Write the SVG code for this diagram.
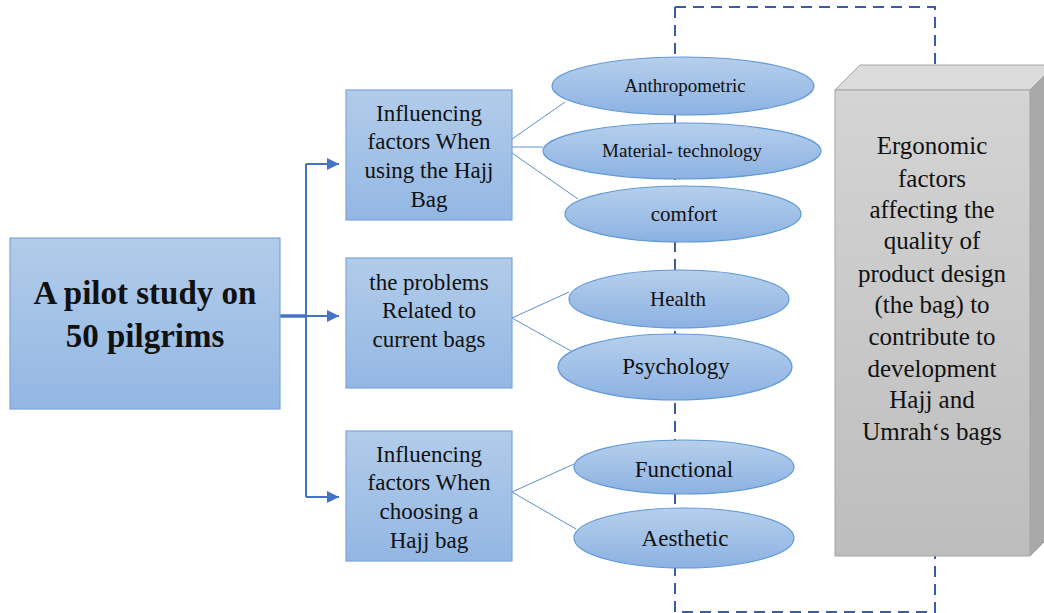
<svg xmlns="http://www.w3.org/2000/svg" width="1044" height="613" viewBox="0 0 1044 613">
<defs>
<linearGradient id="gBox" x1="0" y1="0" x2="0" y2="1"><stop offset="0" stop-color="#B2CCEA"/><stop offset="1" stop-color="#93B7E3"/></linearGradient>
<linearGradient id="gEll" x1="0" y1="0" x2="0" y2="1"><stop offset="0" stop-color="#B6CFEC"/><stop offset="1" stop-color="#8CB2E2"/></linearGradient>
<linearGradient id="gGray" x1="0" y1="0" x2="0" y2="1"><stop offset="0" stop-color="#D4D4D4"/><stop offset="1" stop-color="#BDBDBD"/></linearGradient>
<marker id="arr" viewBox="0 0 10 10" refX="10" refY="5" markerWidth="6" markerHeight="6" orient="auto" markerUnits="strokeWidth"><path d="M0,0 L10,5 L0,10 z" fill="#4472C4"/></marker>
<style>
.box{fill:url(#gBox);stroke:#7AA6DC;stroke-width:1.2;}
.ell{fill:url(#gEll);stroke:#5E98D6;stroke-width:1.2;}
.t{font-family:"Liberation Serif","Times New Roman",serif;fill:#111;text-anchor:middle;}
.bt{font-size:23px;}
.link{stroke:#5E8ED2;stroke-width:1;fill:none;}
.arrow{stroke:#4472C4;stroke-width:2;fill:none;}
.dash{stroke:#3B5C9E;stroke-width:2;fill:none;stroke-dasharray:11 7;}
</style>
</defs>
<rect width="1044" height="613" fill="#fff"/>

<g id="connectors">
<path class="dash" d="M675,7 L675,612 L935,612 L935,556"/>
<path class="dash" d="M675,7 L935,7 L935,64"/>
<path d="M280,316 L306,316" stroke="#4472C4" stroke-width="3.5" fill="none"/>
<path class="arrow" d="M306,164 L306,497"/>
<path class="arrow" d="M306,164 L339,164" marker-end="url(#arr)"/>
<path class="arrow" d="M306,316 L339,316" marker-end="url(#arr)"/>
<path class="arrow" d="M306,497 L339,497" marker-end="url(#arr)"/>
<path class="link" d="M512,139 L565,102 M512,147 L543,147 M512,153 L578,199"/>
<path class="link" d="M512,318 L569,292 M512,318 L571,351"/>
<path class="link" d="M512,492 L574,464 M512,492 L576,529"/>
</g>

<g id="main">
<rect class="box" x="10" y="238" width="270" height="171"/>
<text class="t" x="145" y="304" font-size="33" font-weight="bold">A pilot study on</text>
<text class="t" x="145" y="347" font-size="33" font-weight="bold">50 pilgrims</text>
</g>

<g id="box1">
<rect class="box" x="346" y="90" width="166" height="130"/>
<text class="t bt" x="429" y="121">Influencing</text>
<text class="t bt" x="429" y="149">factors When</text>
<text class="t bt" x="429" y="178">using the Hajj</text>
<text class="t bt" x="429" y="207">Bag</text>
</g>

<g id="box2">
<rect class="box" x="346" y="258" width="166" height="130"/>
<text class="t bt" x="429" y="290">the problems</text>
<text class="t bt" x="429" y="318">Related to</text>
<text class="t bt" x="429" y="347">current bags</text>
</g>

<g id="box3">
<rect class="box" x="346" y="431" width="166" height="130"/>
<text class="t bt" x="429" y="462">Influencing</text>
<text class="t bt" x="429" y="490">factors When</text>
<text class="t bt" x="429" y="519">choosing a</text>
<text class="t bt" x="429" y="548">Hajj bag</text>
</g>

<g id="anthropometric">
<ellipse class="ell" cx="683" cy="86" rx="131" ry="29"/>
<text class="t" x="685" y="92" font-size="19">Anthropometric</text>
</g>
<g id="material">
<ellipse class="ell" cx="682" cy="151" rx="139" ry="28"/>
<text class="t" x="682" y="157" font-size="19">Material- technology</text>
</g>
<g id="comfort">
<ellipse class="ell" cx="683" cy="214" rx="118" ry="28"/>
<text class="t" x="684" y="221" font-size="21">comfort</text>
</g>
<g id="health">
<ellipse class="ell" cx="679" cy="299" rx="110" ry="29"/>
<text class="t" x="678" y="306" font-size="21">Health</text>
</g>
<g id="psychology">
<ellipse class="ell" cx="675" cy="367" rx="117" ry="33"/>
<text class="t" x="676" y="374" font-size="23">Psychology</text>
</g>
<g id="functional">
<ellipse class="ell" cx="684" cy="467" rx="110" ry="27"/>
<text class="t" x="684" y="477" font-size="23">Functional</text>
</g>
<g id="aesthetic">
<ellipse class="ell" cx="684" cy="538" rx="110" ry="30"/>
<text class="t" x="685" y="546" font-size="23">Aesthetic</text>
</g>

<g id="ergonomic">
<polygon points="835,90 860,65 1056,65 1030,90" fill="#DCDCDC" stroke="#A6A6A6" stroke-width="1"/>
<polygon points="1030,90 1056,64 1056,530 1030,556" fill="#A9A9A9" stroke="#A0A0A0" stroke-width="1"/>
<rect x="835" y="90" width="195" height="466" fill="url(#gGray)" stroke="#A6A6A6" stroke-width="1"/>
<g class="t" font-size="25">
<text x="932" y="154">Ergonomic</text>
<text x="932" y="187">factors</text>
<text x="932" y="218">affecting the</text>
<text x="932" y="249">quality of</text>
<text x="932" y="282">product design</text>
<text x="932" y="313">(the bag) to</text>
<text x="932" y="345">contribute to</text>
<text x="932" y="377">development</text>
<text x="932" y="408">Hajj and</text>
<text x="932" y="440">Umrah‘s bags</text>
</g>
</g>
</svg>
